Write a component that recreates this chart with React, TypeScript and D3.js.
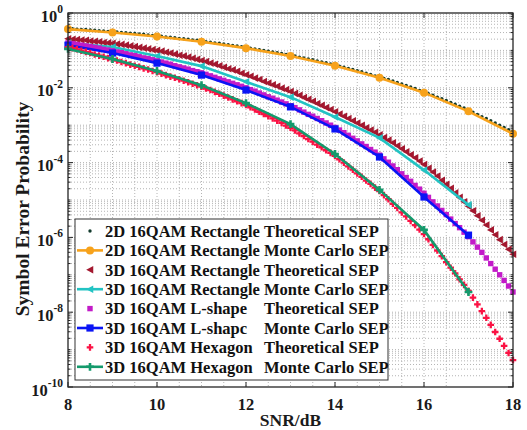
import React from 'react';
import * as d3 from 'd3';

// SNR grids (dB)
const snrFine = [
  8.0, 8.1, 8.2, 8.3, 8.4, 8.5, 8.6, 8.7, 8.8, 8.9,
  9.0, 9.1, 9.2, 9.3, 9.4, 9.5, 9.6, 9.7, 9.8, 9.9,
  10.0, 10.1, 10.2, 10.3, 10.4, 10.5, 10.6, 10.7, 10.8, 10.9,
  11.0, 11.1, 11.2, 11.3, 11.4, 11.5, 11.6, 11.7, 11.8, 11.9,
  12.0, 12.1, 12.2, 12.3, 12.4, 12.5, 12.6, 12.7, 12.8, 12.9,
  13.0, 13.1, 13.2, 13.3, 13.4, 13.5, 13.6, 13.7, 13.8, 13.9,
  14.0, 14.1, 14.2, 14.3, 14.4, 14.5, 14.6, 14.7, 14.8, 14.9,
  15.0, 15.1, 15.2, 15.3, 15.4, 15.5, 15.6, 15.7, 15.8, 15.9,
  16.0, 16.1, 16.2, 16.3, 16.4, 16.5, 16.6, 16.7, 16.8, 16.9,
  17.0, 17.1, 17.2, 17.3, 17.4, 17.5, 17.6, 17.7, 17.8, 17.9,
  18.0,
];
const snrCoarse = [8, 9, 10, 11, 12, 13, 14, 15, 16, 17, 18];

// log10(SEP) values
const rect2DTheoryLog = [
  -0.41, -0.42, -0.43, -0.44, -0.44, -0.45, -0.46, -0.47, -0.48, -0.49,
  -0.50, -0.51, -0.52, -0.53, -0.54, -0.55, -0.56, -0.57, -0.59, -0.60,
  -0.61, -0.62, -0.64, -0.65, -0.66, -0.68, -0.69, -0.70, -0.72, -0.73,
  -0.75, -0.77, -0.78, -0.80, -0.81, -0.83, -0.85, -0.87, -0.88, -0.90,
  -0.92, -0.94, -0.96, -0.98, -1.00, -1.02, -1.04, -1.06, -1.08, -1.11,
  -1.13, -1.15, -1.18, -1.20, -1.23, -1.25, -1.28, -1.31, -1.33, -1.36,
  -1.39, -1.42, -1.45, -1.48, -1.51, -1.54, -1.57, -1.61, -1.64, -1.68,
  -1.71, -1.75, -1.78, -1.82, -1.86, -1.90, -1.94, -1.98, -2.02, -2.07,
  -2.11, -2.16, -2.20, -2.25, -2.29, -2.34, -2.39, -2.44, -2.49, -2.54,
  -2.60, -2.65, -2.71, -2.77, -2.82, -2.88, -2.94, -3.00, -3.06, -3.12,
  -3.19,
];
const rect2DMonteLog = [-0.43, -0.52, -0.63, -0.77, -0.94, -1.15, -1.41, -1.73, -2.13, -2.63, -3.23];

const rect3DTheoryLog = [
  -0.69, -0.70, -0.71, -0.72, -0.73, -0.75, -0.76, -0.77, -0.79, -0.80,
  -0.81, -0.83, -0.84, -0.86, -0.88, -0.90, -0.92, -0.94, -0.96, -0.98,
  -1.00, -1.02, -1.05, -1.07, -1.10, -1.13, -1.15, -1.18, -1.21, -1.24,
  -1.27, -1.30, -1.34, -1.37, -1.41, -1.45, -1.49, -1.52, -1.56, -1.61,
  -1.65, -1.69, -1.74, -1.78, -1.83, -1.87, -1.92, -1.96, -2.01, -2.05,
  -2.10, -2.15, -2.20, -2.26, -2.31, -2.36, -2.42, -2.47, -2.53, -2.58,
  -2.64, -2.70, -2.76, -2.82, -2.88, -2.94, -3.00, -3.07, -3.13, -3.19,
  -3.26, -3.33, -3.40, -3.47, -3.55, -3.63, -3.71, -3.79, -3.87, -3.96,
  -4.05, -4.15, -4.25, -4.36, -4.47, -4.58, -4.69, -4.81, -4.93, -5.05,
  -5.17, -5.29, -5.42, -5.54, -5.67, -5.80, -5.93, -6.06, -6.19, -6.32,
  -6.45,
];
const rect3DMonteLog = [-0.80, -0.91, -1.15, -1.42, -1.84, -2.25, -2.78, -3.34, -4.20, -5.13];

const lshapeTheoryLog = [
  -0.80, -0.82, -0.84, -0.86, -0.88, -0.90, -0.92, -0.94, -0.97, -0.99,
  -1.01, -1.04, -1.06, -1.09, -1.12, -1.14, -1.17, -1.20, -1.22, -1.25,
  -1.28, -1.31, -1.34, -1.37, -1.41, -1.44, -1.47, -1.50, -1.54, -1.57,
  -1.60, -1.64, -1.68, -1.72, -1.76, -1.80, -1.84, -1.88, -1.92, -1.96,
  -2.00, -2.05, -2.09, -2.14, -2.19, -2.24, -2.28, -2.33, -2.38, -2.43,
  -2.48, -2.53, -2.59, -2.65, -2.71, -2.76, -2.82, -2.88, -2.94, -3.00,
  -3.06, -3.13, -3.20, -3.27, -3.35, -3.42, -3.50, -3.57, -3.65, -3.72,
  -3.80, -3.90, -3.99, -4.09, -4.19, -4.30, -4.40, -4.50, -4.61, -4.71,
  -4.82, -4.93, -5.05, -5.16, -5.28, -5.39, -5.51, -5.63, -5.74, -5.86,
  -5.98, -6.12, -6.26, -6.40, -6.55, -6.70, -6.85, -7.00, -7.15, -7.30,
  -7.46,
];
const lshapeMonteLog = [-0.86, -1.07, -1.34, -1.66, -2.06, -2.51, -3.10, -3.85, -4.92, -5.94];

const hexTheoryLog = [
  -0.91, -0.94, -0.97, -1.01, -1.04, -1.07, -1.11, -1.14, -1.17, -1.21,
  -1.24, -1.27, -1.31, -1.34, -1.38, -1.41, -1.44, -1.48, -1.51, -1.55,
  -1.58, -1.62, -1.66, -1.70, -1.73, -1.77, -1.81, -1.85, -1.89, -1.93,
  -1.97, -2.02, -2.06, -2.11, -2.16, -2.21, -2.26, -2.31, -2.36, -2.41,
  -2.46, -2.52, -2.58, -2.64, -2.70, -2.76, -2.82, -2.88, -2.94, -3.01,
  -3.07, -3.14, -3.22, -3.29, -3.37, -3.44, -3.52, -3.59, -3.67, -3.74,
  -3.82, -3.91, -4.00, -4.10, -4.19, -4.29, -4.38, -4.48, -4.57, -4.67,
  -4.76, -4.87, -4.98, -5.10, -5.21, -5.33, -5.44, -5.56, -5.67, -5.79,
  -5.91, -6.05, -6.20, -6.35, -6.50, -6.66, -6.81, -6.96, -7.12, -7.27,
  -7.43, -7.61, -7.79, -7.97, -8.15, -8.34, -8.53, -8.71, -8.90, -9.09,
  -9.28,
];
const hexMonteLog = [-0.96, -1.23, -1.55, -1.93, -2.41, -2.97, -3.77, -4.73, -5.80, -7.46];

const xTicks = [8, 10, 12, 14, 16, 18];
const yTickExps = [0, -2, -4, -6, -8, -10];

const legendPrefix = [
  '2D 16QAM Rectangle', '2D 16QAM Rectangle', '3D 16QAM Rectangle', '3D 16QAM Rectangle',
  '3D 16QAM L-shape', '3D 16QAM L-shapc', '3D 16QAM Hexagon', '3D 16QAM Hexagon',
];
const legendSuffix = [
  'Theoretical SEP', 'Monte Carlo SEP', 'Theoretical SEP', 'Monte Carlo SEP',
  'Theoretical SEP', 'Monte Carlo SEP', 'Theoretical SEP', 'Monte Carlo SEP',
];

type MarkerType = 'dot' | 'circle' | 'tri' | 'square' | 'bigsquare' | 'plus' | 'bigplus';

interface Series {
  x: number[];
  logs: number[];
  color: string;
  marker: MarkerType;
  line: boolean;
}

const series: Series[] = [
  { x: snrFine, logs: rect2DTheoryLog, color: '#123a2c', marker: 'dot', line: false },
  { x: snrCoarse, logs: rect2DMonteLog, color: '#f7a21b', marker: 'circle', line: true },
  { x: snrFine, logs: rect3DTheoryLog, color: '#a3182f', marker: 'tri', line: false },
  { x: snrCoarse.slice(0, 10), logs: rect3DMonteLog, color: '#22c3c3', marker: 'tri', line: true },
  { x: snrFine, logs: lshapeTheoryLog, color: '#c21bc8', marker: 'square', line: false },
  { x: snrCoarse.slice(0, 10), logs: lshapeMonteLog, color: '#0a14f5', marker: 'bigsquare', line: true },
  { x: snrFine, logs: hexTheoryLog, color: '#fb1244', marker: 'plus', line: false },
  { x: snrCoarse.slice(0, 10), logs: hexMonteLog, color: '#149a6c', marker: 'bigplus', line: true },
];

const W = 527;
const H = 430;
const L = 68, R = 513, T = 13, B = 387;
const FONT = '"Liberation Serif", "Times New Roman", serif';

function Marker({ type, x, y, color }: { type: MarkerType; x: number; y: number; color: string }) {
  switch (type) {
    case 'dot':
      return <circle cx={x} cy={y} r={1.7} fill={color} />;
    case 'circle':
      return <circle cx={x} cy={y} r={4} fill={color} />;
    case 'tri': {
      const s = 3.8;
      return <path d={`M${x - s},${y}L${x + s * 0.85},${y - s}L${x + s * 0.85},${y + s}Z`} fill={color} />;
    }
    case 'square':
      return <rect x={x - 2.7} y={y - 2.7} width={5.4} height={5.4} fill={color} />;
    case 'bigsquare':
      return <rect x={x - 3.6} y={y - 3.6} width={7.2} height={7.2} fill={color} />;
    case 'plus': {
      const s = 3.3;
      return <path d={`M${x - s},${y}H${x + s}M${x},${y - s}V${y + s}`} stroke={color} strokeWidth={2.3} fill="none" />;
    }
    case 'bigplus': {
      const s = 3.9;
      return <path d={`M${x - s},${y}H${x + s}M${x},${y - s}V${y + s}`} stroke={color} strokeWidth={2.6} fill="none" />;
    }
  }
  return null;
}

export default function App() {
  const x = d3.scaleLinear().domain([8, 18]).range([L, R]);
  const y = d3.scaleLog().domain([1e-10, 1]).range([B, T]);

  const xGrid = d3.range(17).map((i) => 8.5 + i * 0.5).filter((v) => v < 18);
  const yGrid: number[] = [];
  for (let e = -10; e < 0; e++) {
    for (let k = 1; k <= 9; k++) {
      const v = k * Math.pow(10, e);
      if (v > 1e-10 && v < 1) yGrid.push(v);
    }
  }
  const yMinor: number[] = [];
  for (let e = -10; e < 0; e++) {
    for (let k = 2; k <= 9; k++) yMinor.push(k * Math.pow(10, e));
  }
  const yOdd = [-1, -3, -5, -7, -9].map((e) => Math.pow(10, e));

  const line = d3
    .line<[number, number]>()
    .x((d) => x(d[0]))
    .y((d) => y(Math.pow(10, d[1])));

  const legX = 75, legY = 219, legW = 313, legH = 161;
  const rowY0 = 231, rowStep = 19.4;

  return (
    <svg width={W} height={H} style={{ position: 'absolute', left: 0, top: 0, background: '#fff' }} fontFamily={FONT}>
      <rect x={0} y={0} width={W} height={H} fill="#fff" />
      {/* grid */}
      <g stroke="#b4b4b4" strokeWidth={1} strokeDasharray="1,2" fill="none">
        {xGrid.map((v) => (
          <line key={'gx' + v} x1={x(v)} x2={x(v)} y1={T} y2={B} />
        ))}
        {yGrid.map((v, i) => (
          <line key={'gy' + i} x1={L} x2={R} y1={y(v)} y2={y(v)} />
        ))}
      </g>
      {/* series */}
      {series.map((s, si) => {
        const pts: [number, number][] = s.x.map((v, i) => [v, s.logs[i]]);
        return (
          <g key={'s' + si}>
            {s.line && <path d={line(pts) || ''} fill="none" stroke={s.color} strokeWidth={2.6} />}
            {pts.map((p, i) => (
              <Marker key={i} type={s.marker} x={x(p[0])} y={y(Math.pow(10, p[1]))} color={s.color} />
            ))}
          </g>
        );
      })}
      {/* frame & ticks */}
      <g stroke="#262626" strokeWidth={1}>
        {xTicks.map((v) => (
          <g key={'tx' + v}>
            <line x1={x(v)} x2={x(v)} y1={B} y2={B - 5} />
            <line x1={x(v)} x2={x(v)} y1={T} y2={T + 5} />
          </g>
        ))}
        {yTickExps.map((e) => (
          <g key={'ty' + e}>
            <line x1={L} x2={L + 5} y1={y(Math.pow(10, e))} y2={y(Math.pow(10, e))} />
            <line x1={R} x2={R - 5} y1={y(Math.pow(10, e))} y2={y(Math.pow(10, e))} />
          </g>
        ))}
        {yMinor.concat(yOdd).map((v, i) => (
          <g key={'tm' + i}>
            <line x1={L} x2={L + 2.5} y1={y(v)} y2={y(v)} />
            <line x1={R} x2={R - 2.5} y1={y(v)} y2={y(v)} />
          </g>
        ))}
      </g>
      <rect x={L} y={T} width={R - L} height={B - T} fill="none" stroke="#262626" strokeWidth={1.3} />
      {/* tick labels */}
      <g fontWeight="bold" fontSize={16.5} fill="#1a1a1a">
        {xTicks.map((v) => (
          <text key={'lx' + v} x={x(v)} y={410} textAnchor="middle">
            {v}
          </text>
        ))}
        {yTickExps.map((e) => (
          <text key={'ly' + e} x={63} y={y(Math.pow(10, e)) + 8.5} textAnchor="end">
            10
            <tspan dy={-8.5} fontSize={11.5}>
              {String(e)}
            </tspan>
          </text>
        ))}
      </g>
      <text x={(L + R) / 2} y={426} textAnchor="middle" fontWeight="bold" fontSize={17.5} fill="#1a1a1a">
        SNR/dB
      </text>
      <text
        transform={`translate(29,${209}) rotate(-90)`}
        textAnchor="middle"
        fontWeight="bold"
        fontSize={19.5}
        fill="#1a1a1a"
      >
        Symbol Error Probability
      </text>
      {/* legend */}
      <rect x={legX} y={legY} width={legW} height={legH} fill="#fff" stroke="#333" strokeWidth={1} />
      {series.map((s, i) => {
        const cy = rowY0 + i * rowStep;
        return (
          <g key={'lg' + i}>
            {s.line && <line x1={77} x2={103} y1={cy} y2={cy} stroke={s.color} strokeWidth={2.6} />}
            <Marker type={s.marker} x={90} y={cy} color={s.color} />
            <text x={105} y={cy + 5.8} fontWeight="bold" fontSize={16.5} fill="#111">
              {legendPrefix[i]}
            </text>
            <text x={264} y={cy + 5.8} fontWeight="bold" fontSize={16.5} fill="#111">
              {legendSuffix[i]}
            </text>
          </g>
        );
      })}
    </svg>
  );
}
